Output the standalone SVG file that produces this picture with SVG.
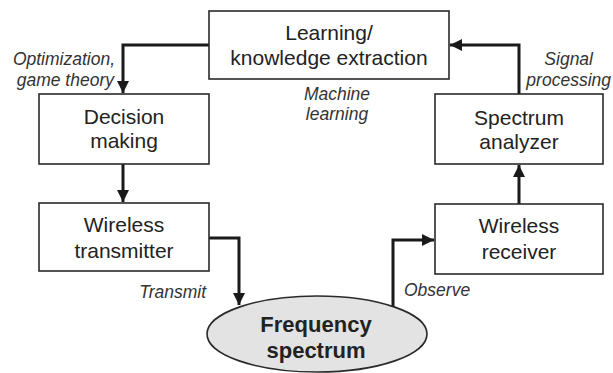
<svg xmlns="http://www.w3.org/2000/svg" width="613" height="373" viewBox="0 0 613 373">
<style>
.box{fill:#fff;stroke:#2a2a2a;stroke-width:1.6}
.node{font-family:"Liberation Sans",Arial,sans-serif;font-size:21px;fill:#222;text-anchor:middle}
.bold{font-weight:bold;font-size:22px}
.lbl{font-family:"Liberation Sans",Arial,sans-serif;font-size:17.5px;font-style:italic;fill:#333}
.conn{fill:none;stroke:#1a1a1a;stroke-width:3;marker-end:url(#ah)}
</style>
<defs>
<marker id="ah" viewBox="0 0 10 10" refX="10" refY="5" markerWidth="4.3" markerHeight="4" orient="auto" markerUnits="strokeWidth">
<path d="M0,0 L10,5 L0,10 z" fill="#1a1a1a"/>
</marker>
</defs>
<rect width="613" height="373" fill="#fff"/>
<g id="connectors">
<path class="conn" d="M209,45 H123 V93"/>
<path class="conn" d="M123,164 V202"/>
<path class="conn" d="M209,238 H239 V305"/>
<path class="conn" d="M393,308 V240 H434"/>
<path class="conn" d="M519,204 V165"/>
<path class="conn" d="M519,94 V45 H450"/>
</g>
<g id="learning">
<rect class="box" x="209" y="11" width="240" height="68"/>
<text class="node" x="329" y="40">Learning/</text>
<text class="node" x="329" y="65">knowledge extraction</text>
</g>
<g id="decision">
<rect class="box" x="39" y="94" width="170" height="70"/>
<text class="node" x="124" y="124">Decision</text>
<text class="node" x="124" y="148">making</text>
</g>
<g id="transmitter">
<rect class="box" x="39" y="203" width="170" height="68"/>
<text class="node" x="124" y="232">Wireless</text>
<text class="node" x="124" y="258">transmitter</text>
</g>
<g id="analyzer">
<rect class="box" x="435" y="94" width="168" height="70"/>
<text class="node" x="519" y="125">Spectrum</text>
<text class="node" x="519" y="149">analyzer</text>
</g>
<g id="receiver">
<rect class="box" x="435" y="204" width="168" height="70"/>
<text class="node" x="519" y="233">Wireless</text>
<text class="node" x="519" y="259">receiver</text>
</g>
<g id="spectrum">
<ellipse cx="317" cy="334" rx="110" ry="38" fill="#e3e3e3" stroke="#2a2a2a" stroke-width="1.6"/>
<text class="node bold" x="316" y="332">Frequency</text>
<text class="node bold" x="316" y="358">spectrum</text>
</g>
<g id="labels">
<text class="lbl" x="115" y="65" text-anchor="end">Optimization,</text>
<text class="lbl" x="114" y="86" text-anchor="end">game theory</text>
<text class="lbl" x="337" y="100" text-anchor="middle">Machine</text>
<text class="lbl" x="337" y="120" text-anchor="middle">learning</text>
<text class="lbl" x="593" y="65" text-anchor="end">Signal</text>
<text class="lbl" x="611" y="86" text-anchor="end">processing</text>
<text class="lbl" x="206" y="298" text-anchor="end">Transmit</text>
<text class="lbl" x="404" y="296">Observe</text>
</g>
</svg>
